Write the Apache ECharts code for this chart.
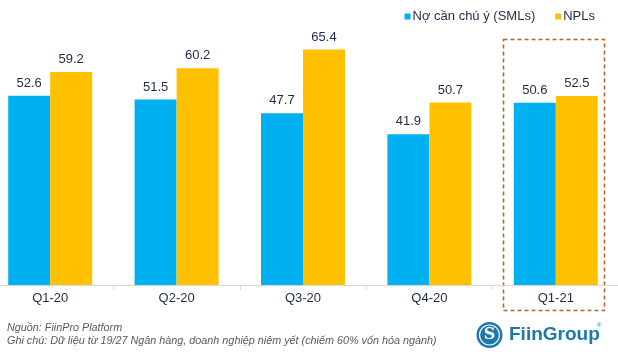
<!DOCTYPE html>
<html>
<head>
<meta charset="utf-8">
<script src="https://cdn.jsdelivr.net/npm/echarts@6/dist/echarts.min.js"></script>
<style>
  html, body { margin: 0; padding: 0; background: #fff; }
  #chart { width: 618px; height: 352px; }
</style>
</head>
<body>
<div id="chart"></div>
<script>
// quarters and values (nghìn tỷ đồng)
var quarters = ['Q1-20', 'Q2-20', 'Q3-20', 'Q4-20', 'Q1-21'];
var smlValues = [52.6, 51.5, 47.7, 41.9, 50.6];
var nplValues = [59.2, 60.2, 65.4, 50.7, 52.5];
var seriesNames = ['Nợ cần chú ý (SMLs)', 'NPLs'];

var myChart = echarts.init(document.getElementById('chart'));

var labelStyle = {
    show: true,
    position: 'top',
    distance: 6,
    color: '#1f2a4a',
    fontSize: 13,
    fontFamily: 'Liberation Sans'
};

var option = {
    animation: false,
    textStyle: {fontFamily: 'Liberation Sans'},
    legend: {
        data: seriesNames,
        right: 18,
        top: 5,
        itemWidth: 6,
        itemHeight: 6,
        itemGap: 20,
        icon: 'rect',
        textStyle: {color: '#1f2a4a', fontSize: 13, padding: [0, 0, 0, -3]}
    },
    grid: {
        left: -13,
        right: -1,
        top: 33,
        bottom: 67,
        outerBoundsMode: 'none',
        containLabel: false
    },
    xAxis: {
        type: 'category',
        data: quarters,
        axisLine: {lineStyle: {color: '#d9d9d9'}},
        axisTick: {show: true, length: 5, lineStyle: {color: '#d9d9d9'}},
        axisLabel: {color: '#1f2a4a', fontSize: 13, margin: 7}
    },
    yAxis: {
        type: 'value',
        min: 0,
        max: 70,
        show: false,
        splitLine: {show: false}
    },
    series: [
        {
            name: seriesNames[0],
            type: 'bar',
            data: smlValues,
            barWidth: 42,
            barGap: '0%',
            itemStyle: {color: '#00b0f0'},
            label: labelStyle
        },
        {
            name: seriesNames[1],
            type: 'bar',
            data: nplValues,
            barWidth: 42,
            itemStyle: {color: '#ffc000'},
            label: labelStyle
        }
    ],
    graphic: [
        // highlight box round Q1-21
        {
            type: 'rect',
            shape: {x: 503.5, y: 39.5, width: 101, height: 271},
            style: {fill: 'none', stroke: '#b5652a', lineWidth: 1.6, lineDash: [4, 3]}
        },
        {
            type: 'text',
            x: 7,
            y: 328,
            style: {
                text: 'Nguồn: FiinPro Platform',
                fill: '#595959',
                font: 'italic 10.8px "Liberation Sans"',
                verticalAlign: 'middle'
            }
        },
        {
            type: 'text',
            x: 7,
            y: 341,
            style: {
                text: 'Ghi chú: Dữ liệu từ 19/27 Ngân hàng, doanh nghiệp niêm yết (chiếm 60% vốn hóa ngành)',
                fill: '#595959',
                font: 'italic 10.8px "Liberation Sans"',
                verticalAlign: 'middle'
            }
        },
        // logo
        {
            type: 'circle',
            shape: {cx: 489.5, cy: 335, r: 13},
            style: {fill: '#1c78a8'}
        },
        {
            type: 'circle',
            shape: {cx: 489.5, cy: 335, r: 10},
            style: {fill: 'none', stroke: '#fff', lineWidth: 1.2}
        },
        {
            type: 'text',
            x: 489.5,
            y: 335,
            style: {
                text: 'S',
                fill: '#fff',
                font: 'bold 16px "DejaVu Serif"',
                align: 'center',
                verticalAlign: 'middle'
            }
        },
        {
            type: 'text',
            x: 509,
            y: 335,
            style: {
                text: 'FiinGroup',
                fill: '#1c78a8',
                font: 'bold 19px "Liberation Sans"',
                verticalAlign: 'middle'
            }
        },
        {
            type: 'text',
            x: 597,
            y: 322,
            style: {text: '®', fill: '#1c78a8', font: '6px "Liberation Sans"'}
        }
    ]
};

if (option && typeof option === "object") {
    myChart.setOption(option, true);
}
</script>
</body>
</html>
